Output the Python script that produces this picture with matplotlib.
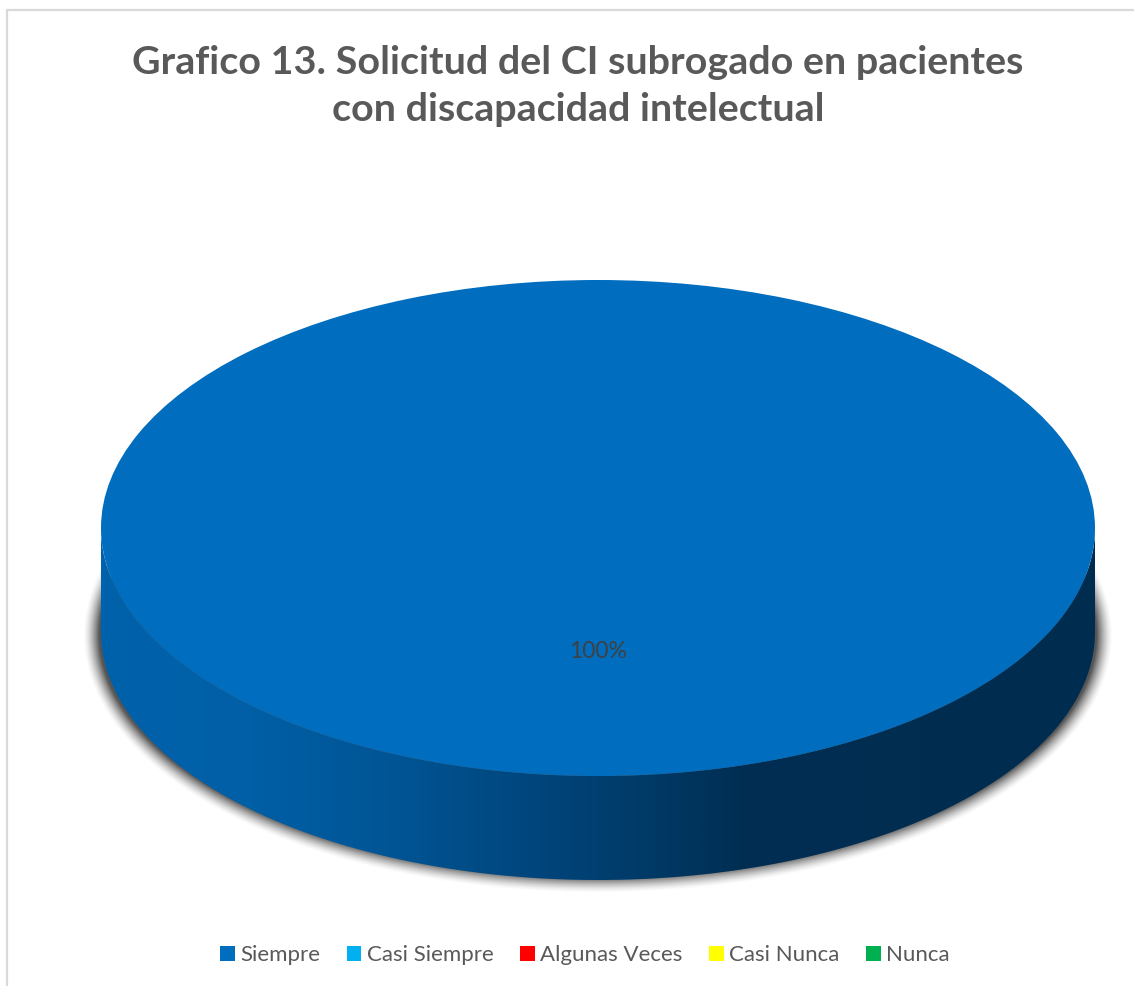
import numpy as np
from matplotlib import pyplot as plt
from matplotlib.colors import LinearSegmentedColormap
from matplotlib.lines import Line2D
from matplotlib.patches import Polygon

categories = ['Siempre', 'Casi Siempre', 'Algunas Veces', 'Casi Nunca', 'Nunca']
values = [100, 0, 0, 0, 0]
colors = ['#006DBF', '#00B0F0', '#FF0000', '#FFFF00', '#00B050']
title = 'Grafico 13. Solicitud del CI subrogado en pacientes\ncon discapacidad intelectual'

W, H = 1134, 986
plt.rcParams['font.family'] = ['Lato', 'DejaVu Sans']

fig = plt.figure(figsize=(W / 100, H / 100), dpi=100)

# the unit circle of this axes lands on the top ellipse of the disc
left, right, top, bottom = 101, 1095, 280, 776
ax = fig.add_axes([left / W, 1 - bottom / H, (right - left) / W, (bottom - top) / H])


def autopct(pct):
    return '%.0f%%' % pct if pct > 0 else ''


wedges, _, autotexts = ax.pie(values, colors=colors, startangle=90, autopct=autopct,
                              pctdistance=0.498, radius=1,
                              wedgeprops={'linewidth': 0, 'zorder': 3})
for t in autotexts:
    t.set_color('#404040')
    t.set_fontsize(16.5)
    t.set_zorder(4)

ax.set_aspect('auto')
depth = 104 / 248

# side wall, horizontal gradient clipped to the lower half
side_cmap = LinearSegmentedColormap.from_list('side', [
    (0.0, '#0062AC'), (0.15, '#005FA6'), (0.3, '#005493'), (0.45, '#00447A'),
    (0.55, '#003A67'), (0.65, '#002E52'), (1.0, '#002C4F')])
t = np.linspace(np.pi, 2 * np.pi, 300)
outline = np.r_[np.c_[np.cos(t), np.sin(t) - depth], np.c_[np.cos(t[::-1]), np.sin(t[::-1])]]
grad = np.linspace(0, 1, 512).reshape(1, -1)
side = ax.imshow(grad, cmap=side_cmap, extent=(-1, 1, -1 - depth, 0), aspect='auto', zorder=2)
side.set_clip_path(Polygon(outline, closed=True, transform=ax.transData))
side.set_clip_box(fig.bbox)

# soft shadow behind the wall
xs = np.linspace(-1.1, 1.1, 1100)
ys = np.linspace(-1.7, 0.1, 450)
gx, gy = np.meshgrid(xs, ys)
px = gx * 497
py = (gy + depth + 0.012) * 248
rx, ry = 507, 250
r = np.sqrt((px / rx) ** 2 + (py / ry) ** 2)
gr = np.sqrt((px / rx ** 2) ** 2 + (py / ry ** 2) ** 2) / np.maximum(r, 1e-6)
dist = (r - 1) / np.maximum(gr, 1e-6)
rgba = np.zeros(gx.shape + (4,))
rgba[..., :3] = 0.3
rgba[..., 3] = np.clip(0.5 - dist / 16, 0, 1) ** 1.5 * 0.95
ax.imshow(rgba, extent=(-1.1, 1.1, -1.7, 0.1), origin='lower', aspect='auto', zorder=1,
          clip_on=False)

ax.set_xlim(-1, 1)
ax.set_ylim(-1, 1)

# chart frame, only left and top edges show in the crop
fig.add_artist(Line2D([7 / W, 7 / W, 1], [0, 1 - 10 / H, 1 - 10 / H], color='#D9D9D9', lw=1.6))

fig.text(578 / W, 1 - 86 / H, title, ha='center', va='center', fontsize=28.4, fontweight='bold',
         color='#595959', linespacing=1.38)

fig.legend(wedges, categories, loc='center', bbox_to_anchor=(585 / W, 1 - 955 / H), ncol=5,
           frameon=False, fontsize=16, labelcolor='#595959', handlelength=0.65,
           handleheight=0.65, handletextpad=0.25, columnspacing=1.2)

fig.savefig('out.png', dpi=100)
